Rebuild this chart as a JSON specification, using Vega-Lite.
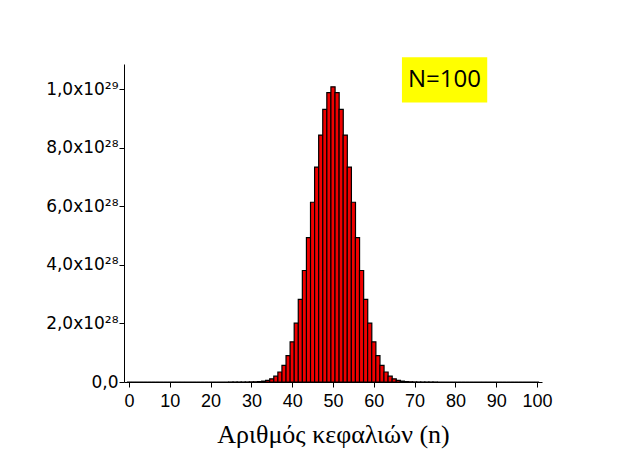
{
  "$schema": "https://vega.github.io/schema/vega-lite/v6.json",
  "width": 418,
  "height": 318,
  "autosize": "none",
  "padding": {"left": 124, "top": 64, "right": 91, "bottom": 70},
  "background": "white",
  "config": {"view": {"stroke": null}},
  "data": {"values": [
    {"n":0,"v":0},{"n":1,"v":0},{"n":2,"v":0},{"n":3,"v":0},{"n":4,"v":0},{"n":5,"v":0},{"n":6,"v":0},{"n":7,"v":0},{"n":8,"v":0},{"n":9,"v":0},
    {"n":10,"v":0},{"n":11,"v":0},{"n":12,"v":0},{"n":13,"v":0},{"n":14,"v":0},{"n":15,"v":0},{"n":16,"v":0},{"n":17,"v":0},{"n":18,"v":0},{"n":19,"v":0},
    {"n":20,"v":0},{"n":21,"v":0},{"n":22,"v":0},{"n":23,"v":0},{"n":24,"v":0},
    {"n":25,"v":2.42e23},{"n":26,"v":6.99e23},{"n":27,"v":1.917e24},{"n":28,"v":4.998e24},{"n":29,"v":1.241e25},
    {"n":30,"v":2.937e25},{"n":31,"v":6.632e25},{"n":32,"v":1.430e26},{"n":33,"v":2.947e26},{"n":34,"v":5.807e26},
    {"n":35,"v":1.095e27},{"n":36,"v":1.977e27},{"n":37,"v":3.420e27},{"n":38,"v":5.670e27},{"n":39,"v":9.014e27},
    {"n":40,"v":1.3746e28},{"n":41,"v":2.0116e28},{"n":42,"v":2.8258e28},{"n":43,"v":3.8116e28},{"n":44,"v":4.9378e28},
    {"n":45,"v":6.1448e28},{"n":46,"v":7.3471e28},{"n":47,"v":8.4413e28},{"n":48,"v":9.3206e28},{"n":49,"v":9.8913e28},
    {"n":50,"v":1.00891e29},
    {"n":51,"v":9.8913e28},{"n":52,"v":9.3206e28},{"n":53,"v":8.4413e28},{"n":54,"v":7.3471e28},{"n":55,"v":6.1448e28},
    {"n":56,"v":4.9378e28},{"n":57,"v":3.8116e28},{"n":58,"v":2.8258e28},{"n":59,"v":2.0116e28},{"n":60,"v":1.3746e28},
    {"n":61,"v":9.014e27},{"n":62,"v":5.670e27},{"n":63,"v":3.420e27},{"n":64,"v":1.977e27},{"n":65,"v":1.095e27},
    {"n":66,"v":5.807e26},{"n":67,"v":2.947e26},{"n":68,"v":1.430e26},{"n":69,"v":6.632e25},{"n":70,"v":2.937e25},
    {"n":71,"v":1.241e25},{"n":72,"v":4.998e24},{"n":73,"v":1.917e24},{"n":74,"v":6.99e23},{"n":75,"v":2.42e23},
    {"n":76,"v":0},{"n":77,"v":0},{"n":78,"v":0},{"n":79,"v":0},{"n":80,"v":0},{"n":81,"v":0},{"n":82,"v":0},{"n":83,"v":0},{"n":84,"v":0},{"n":85,"v":0},
    {"n":86,"v":0},{"n":87,"v":0},{"n":88,"v":0},{"n":89,"v":0},{"n":90,"v":0},{"n":91,"v":0},{"n":92,"v":0},{"n":93,"v":0},{"n":94,"v":0},{"n":95,"v":0},
    {"n":96,"v":0},{"n":97,"v":0},{"n":98,"v":0},{"n":99,"v":0},{"n":100,"v":0}
  ]},
  "layer": [
    {
      "mark": {"type": "bar", "width": 4.18, "fill": "#f00000", "stroke": "black", "strokeWidth": 1.2},
      "encoding": {
        "x": {
          "field": "n", "type": "quantitative",
          "scale": {"domain": [0, 100], "nice": false, "zero": false},
          "axis": {
            "values": [0,5,10,15,20,25,30,35,40,45,50,55,60,65,70,75,80,85,90,95,100],
            "format": "d",
            "labelExpr": "datum.value % 10 == 0 ? datum.label : ''",
            "tickSize": {"condition": {"test": "datum.value % 10 != 0", "value": 3}, "value": 5},
            "grid": false,
            "domainColor": "black", "tickColor": "black", "labelColor": "black",
            "labelFont": "Liberation Sans", "labelFontSize": 18, "labelFlush": false, "labelPadding": 5,
            "title": "Αριθμός κεφαλιών (n)",
            "titleFont": "Liberation Serif", "titleFontSize": 26, "titleFontWeight": "normal", "titleColor": "black",
            "titlePadding": 11
          }
        },
        "y": {
          "field": "v", "type": "quantitative",
          "scale": {"domain": [0, 1.087e29], "nice": false},
          "axis": {
            "values": [0,1e28,2e28,3e28,4e28,5e28,6e28,7e28,8e28,9e28,1e29],
            "labelExpr": "round(datum.value/1e28) == 0 ? '0,0' : (round(datum.value/1e28) % 2 == 1 ? '' : (round(datum.value/1e28) == 10 ? '1,0x10²⁹' : round(datum.value/1e28) + ',0x10²⁸'))",
            "tickSize": {"condition": {"test": "round(datum.value/1e28) % 2 == 1", "value": 3}, "value": 5},
            "grid": false,
            "domainColor": "black", "tickColor": "black", "labelColor": "black",
            "labelFont": "DejaVu Sans", "labelFontSize": 17, "labelPadding": 1,
            "title": null
          }
        }
      }
    },
    {
      "data": {"values": [{}]},
      "mark": {"type": "rect", "fill": "#ffff00", "clip": false},
      "encoding": {
        "x": {"datum": 66.9, "type": "quantitative"},
        "x2": {"datum": 87.8},
        "y": {"datum": 1.11e29, "type": "quantitative"},
        "y2": {"datum": 0.955e29}
      }
    },
    {
      "data": {"values": [{}]},
      "mark": {"type": "text", "text": "N=100", "font": "Open Sans", "fontSize": 24, "color": "black", "align": "center", "baseline": "middle"},
      "encoding": {
        "x": {"datum": 77.3, "type": "quantitative"},
        "y": {"datum": 1.032e29, "type": "quantitative"}
      }
    }
  ]
}
